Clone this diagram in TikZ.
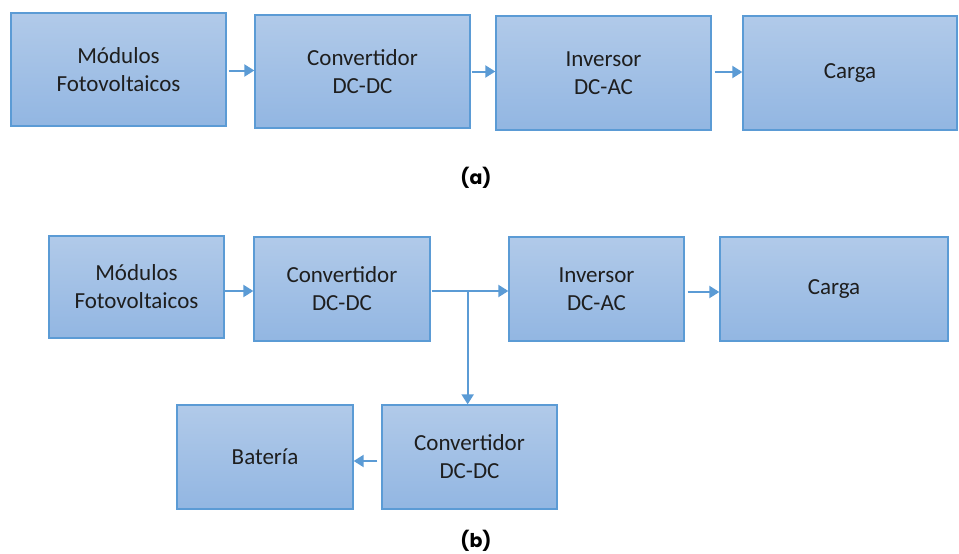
\documentclass[tikz,border=0pt]{standalone}
\usepackage{fontspec}
\setmainfont{Carlito}
\newfontfamily\etiq{Poppins}
\usepackage{tikz}
\usetikzlibrary{arrows.meta, calc}
\definecolor{borde}{RGB}{91,155,213}
\definecolor{claro}{RGB}{177,202,233}
\definecolor{oscuro}{RGB}{146,182,226}
\definecolor{texto}{RGB}{30,30,30}
\tikzset{
  bloque/.style={draw=borde, line width=1.3pt, top color=claro, bottom color=oscuro,
    text=texto, align=center, inner sep=0pt, font=\fontsize{23}{28}\selectfont},
  flecha/.style={-{Triangle[length=10pt, width=12pt]}, draw=borde, line width=2pt},
  rotulo/.style={font=\etiq\bfseries\fontsize{19}{22}\selectfont, text=black}
}

\begin{document}
\begin{tikzpicture}[x=1pt, y=-1pt]
    \useasboundingbox (0,0) rectangle (959,554);
    % (a)
    \node[bloque, minimum width=215pt, minimum height=113pt] (a1) at (118.5,69.5) {Módulos\\Fotovoltaicos};
    \node[bloque, minimum width=215pt, minimum height=113pt] (a2) at (362.5,71.5) {Convertidor\\DC-DC};
    \node[bloque, minimum width=215pt, minimum height=114pt] (a3) at (603.5,73) {Inversor\\DC-AC};
    \node[bloque, minimum width=214pt, minimum height=114pt] (a4) at (850,73) {Carga};
    \draw[flecha, shorten <=2pt] ($(a1.east)+(0,1)$) -- ($(a1.east -| a2.west)+(0,1)$);
    \draw[flecha, shorten <=1pt] (a2.east) -- (a2.east -| a3.west);
    \draw[flecha, shorten <=3pt] ($(a3.east)+(0,-1)$) -- ($(a3.east -| a4.west)+(0,-1)$);
    \node[rotulo] (ta) at (476,178) {(a)};
    % (b)
    \node[bloque, minimum width=175pt, minimum height=102pt] (b1) at (136.5,287) {Módulos\\Fotovoltaicos};
    \node[bloque, minimum width=176pt, minimum height=104pt] (b2) at (342,289) {Convertidor\\DC-DC};
    \node[bloque, minimum width=175pt, minimum height=104pt] (b3) at (596.5,289) {Inversor\\DC-AC};
    \node[bloque, minimum width=228pt, minimum height=104pt] (b4) at (834,289) {Carga};
    \node[bloque, minimum width=176pt, minimum height=104pt] (b5) at (265,457) {Batería};
    \node[bloque, minimum width=175pt, minimum height=104pt] (b6) at (469.5,457) {Convertidor\\DC-DC};
    \coordinate (nudo) at ($(b2.east)+(37,2)$);
    \draw[flecha] ($(b1.east)+(0,4)$) -- ($(b1.east -| b2.west)+(0,4)$);
    \draw[flecha, shorten <=1pt] ($(b2.east)+(0,2)$) -- ($(b2.east -| b3.west)+(0,2)$);
    \draw[flecha] (nudo) -- (nudo |- b6.north);
    \draw[flecha, shorten <=3pt] ($(b3.east)+(0,3)$) -- ($(b3.east -| b4.west)+(0,3)$);
    \draw[flecha, shorten <=4pt] ($(b6.west)+(0,4)$) -- ($(b6.west -| b5.east)+(0,4)$);
    \node[rotulo] (tb) at (476,541) {(b)};
\end{tikzpicture}
\end{document}
